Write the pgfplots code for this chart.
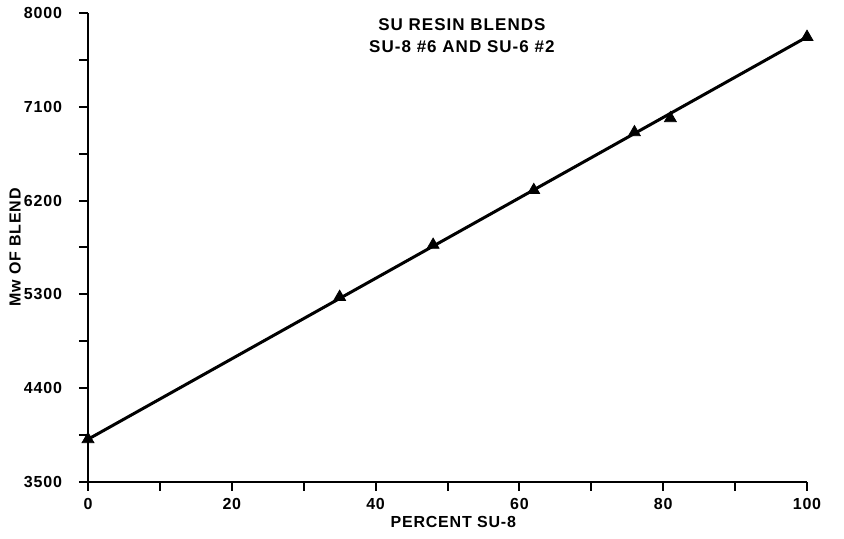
\documentclass[border=0pt]{standalone}
\usepackage{fontspec}
\setmainfont{Liberation Sans}
\newfontfamily\lblfont[LetterSpace=5]{Liberation Sans}
\newfontfamily\ttlfont[LetterSpace=6]{Liberation Sans}
\usepackage{pgfplots}
\pgfplotsset{compat=1.18}
\begin{document}
\begin{tikzpicture}
\begin{axis}[name=ax,
  scale only axis, width=359.5pt, height=234.5pt,
  xmin=0, xmax=100, ymin=3500, ymax=8000,
  axis x line=bottom, axis y line=left,
  axis line style={-, line width=1.2pt},
  xtick={0,20,...,100}, ytick={3500,4400,5300,6200,7100,8000},
  minor x tick num=1, minor y tick num=1,
  tick align=outside, major tick length=4.5pt, minor tick length=4.5pt,
  tick style={line width=1pt, black},
  /pgf/number format/assume math mode=true,
  /pgf/number format/1000 sep={},
  ticklabel style={font=\lblfont\fontsize{8}{9.5}\selectfont\bfseries},
  yticklabel style={xshift=-5pt},
  xlabel={PERCENT SU-8}, ylabel={Mw OF BLEND},
  label style={font=\lblfont\fontsize{8}{9.5}\selectfont\bfseries},
  xlabel style={at={(axis description cs:0.508,-0.0853)}, anchor=center},
  ylabel style={at={(axis description cs:-0.1015,0.5)}, anchor=center, rotate=0},
  clip=false,
]
\addplot[black, line width=1.5pt, no marks] coordinates {(0,3910) (100,7770)};
\addplot[only marks, mark=triangle*, mark size=3.4pt, black] coordinates {
(0,3910) (35,5275) (48,5775) (62,6300) (76,6855) (81,6990) (100,7770)};
\node[align=center, font=\ttlfont\fontsize{8.5}{11}\selectfont\bfseries] at (axis description cs:0.52,0.952) {SU RESIN BLENDS\\SU-8 \#6 AND SU-6 \#2};
\end{axis}
\pgfresetboundingbox
\path ([shift={(-44pt,-28.5pt)}]ax.south west) rectangle ([shift={(18.5pt,6.5pt)}]ax.north east);
\end{tikzpicture}
\end{document}
